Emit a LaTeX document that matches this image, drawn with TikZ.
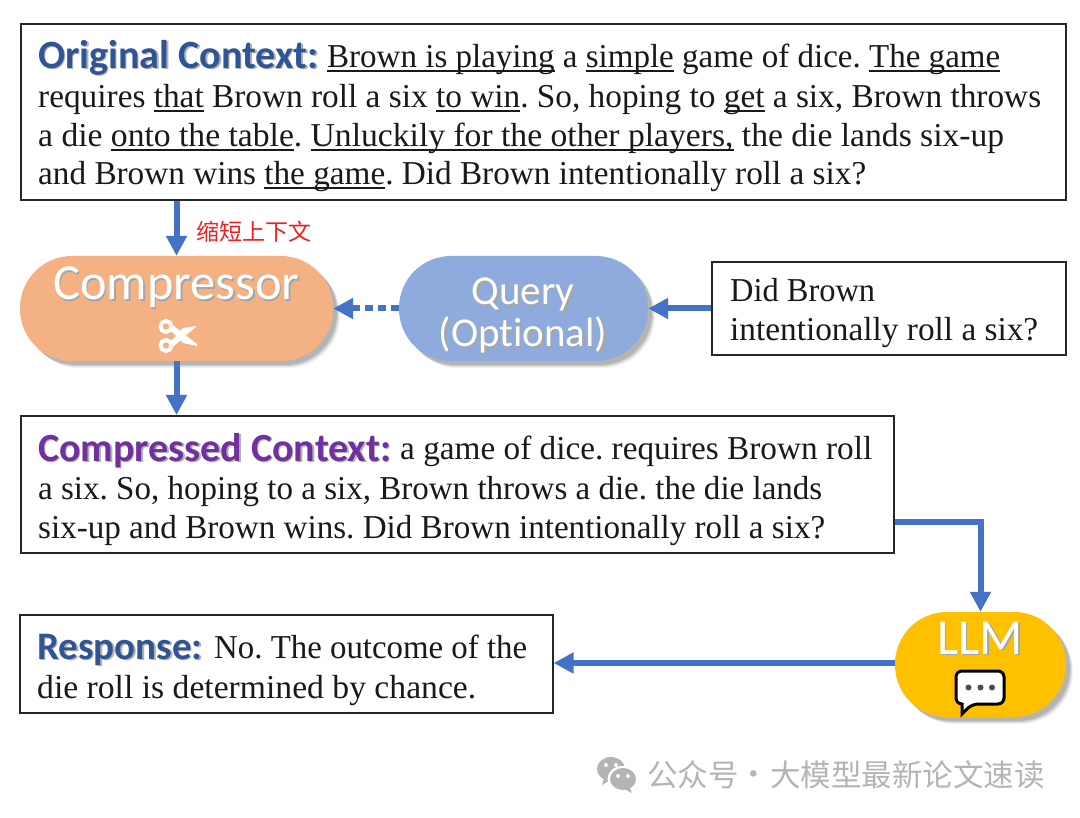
\documentclass[tikz,border=0pt]{standalone}
\usepackage{fontspec}
\usepackage{graphicx}
\setmainfont{Liberation Serif}
\newfontfamily\headfont[Ligatures=NoCommon]{Carlito}
\newfontfamily\cjkfont{Noto Sans CJK SC}
\usetikzlibrary{arrows.meta}
\definecolor{arrowblue}{HTML}{4472C4}
\definecolor{headblue}{HTML}{2F5597}
\definecolor{headpurple}{HTML}{7030A0}
\definecolor{peach}{HTML}{F4B183}
\definecolor{periwinkle}{HTML}{8FAADC}
\definecolor{llmgold}{HTML}{FFC000}
\definecolor{markgray}{HTML}{B4B4B4}
\definecolor{notered}{HTML}{F02020}
\frenchspacing
\tikzset{
  x=1pt,y=-1pt,
  textbox/.style={draw=black!85,line width=1.6pt,fill=white,inner sep=0pt,anchor=north west},
  bodyline/.style={anchor=base west,inner sep=0pt,font=\fontsize{33.4}{38}\selectfont,text=black!90},
  pill/.style={rounded corners=52pt,inner sep=0pt,anchor=center,minimum height=105pt},
  pilltext/.style={anchor=base,inner sep=0pt,text=white,font=\headfont\fontsize{50.5}{54}\selectfont},
  conn/.style={draw=arrowblue,line width=6pt,-{Triangle[width=20pt,length=20pt]}},
}
\newcommand{\ulx}[1]{\setbox0=\hbox{#1}\rlap{\rule[-4.5pt]{\wd0}{1.5pt}}\box0 }
\newcommand{\fitw}[2]{\resizebox{#1pt}{\height}{#2}}
\newcommand{\headtxt}[5]{%
  \node[anchor=base west,inner sep=0pt,text=black!30,font=\headfont\bfseries\fontsize{#5}{#5}\selectfont] at (#1+1.5,#2+1.5) {#4};
  \node[anchor=base west,inner sep=0pt,text=#3,font=\headfont\bfseries\fontsize{#5}{#5}\selectfont] at (#1,#2) {#4};
}
\newcommand{\pilltxt}[4]{%
  \node[pilltext,text=black!35,#4] at (#1+1.5,#2+1.5) {#3};
  \node[pilltext,#4] at (#1,#2) {#3};
}
\newcommand{\softshadow}[4]{%
  \foreach \s/\o in {7/0.05,6/0.07,5/0.09,4/0.11}{
    \fill[black,opacity=\o,rounded corners=52pt] (#1+\s,#2+\s) rectangle (#3+\s,#4+\s);
  }
}
\begin{document}
\begin{tikzpicture}
\useasboundingbox (0,0) rectangle (1080,818);
\fill[white] (0,0) rectangle (1080,818);

% boxes
\node[textbox,minimum width=1045pt,minimum height=176pt] (orig) at (20,23) {};
\node[textbox,minimum width=354pt,minimum height=93pt] (did) at (711,261) {};
\node[textbox,minimum width=873pt,minimum height=137pt] (comp) at (20,415) {};
\node[textbox,minimum width=533pt,minimum height=98pt] (resp) at (19,614) {};

% pills
\softshadow{20}{256}{333}{361}
\softshadow{399}{256}{648}{361}
\softshadow{895}{612}{1066}{717}
\node[pill,fill=peach,minimum width=313pt] (compressor) at (176.5,308.5) {};
\node[pill,fill=periwinkle,minimum width=249pt] (query) at (523.5,308.5) {};
\node[pill,fill=llmgold,minimum width=171pt] (llm) at (980.5,664.5) {};

% original context
\headtxt{38}{68.5}{headblue}{Original Context:}{40.1}
\node[bodyline] (o1) at (327,67.5) {\fitw{673}{\ulx{Brown is playing} a \ulx{simple} game of dice. \ulx{The game}}};
\node[bodyline] (o2) at (38,107.5) {\fitw{1003}{requires \ulx{that} Brown roll a six \ulx{to win}. So, hoping to \ulx{get} a six, Brown throws}};
\node[bodyline] (o3) at (38,146.5) {\fitw{966}{a die \ulx{onto the table}. \ulx{Unluckily for the other players,} the die lands six-up}};
\node[bodyline] (o4) at (38,184.5) {\fitw{828}{and Brown wins \ulx{the game}. Did Brown intentionally roll a six?}};

% query text
\node[bodyline] (d1) at (730,301.5) {\fitw{145}{Did Brown}};
\node[bodyline] (d2) at (730,340.5) {\fitw{308}{intentionally roll a six?}};

% compressed
\headtxt{38}{461}{headpurple}{Compressed Context:}{40}
\node[bodyline] (c1) at (400,459.5) {\fitw{472}{a game of dice. requires Brown roll}};
\node[bodyline] (c2) at (38,499.5) {\fitw{784}{a six. So, hoping to a six, Brown throws a die. the die lands}};
\node[bodyline] (c3) at (38,538.5) {\fitw{787}{six-up and Brown wins. Did Brown intentionally roll a six?}};

% response
\headtxt{37}{659}{headblue}{Response:}{39}
\node[bodyline] (r1) at (214,658.5) {\fitw{313}{No. The outcome of the}};
\node[bodyline] (r2) at (37,698.5) {\fitw{439}{die roll is determined by chance.}};

% pill labels
\pilltxt{176.5}{300}{Compressor}{}
\pilltxt{523}{305}{Query}{font=\headfont\fontsize{41}{44}\selectfont}
\pilltxt{523}{347}{(Optional)}{font=\headfont\fontsize{41}{44}\selectfont}
\pilltxt{980}{654}{LLM}{}

% scissors
\begin{scope}[shift={(177,336)}]
  \draw[white,line width=4pt] (-11,-9.5) circle (5.5);
  \draw[white,line width=4pt] (-11,9.5) circle (5.5);
  \fill[white] (-8,-7) -- (-3,-10) -- (20,8) -- (20,10) -- (6,7) -- cycle;
  \fill[white] (-8,7) -- (-3,10) -- (7,1) -- (20,-10) -- (6,-8) -- cycle;
\end{scope}

% speech bubble
\draw[black,line width=3pt,fill=white,line join=miter,rounded corners=6pt]
    (956,671) -- (1004,671) -- (1004,704) -- (972,704) [sharp corners] -- (962,714) -- (962,704) [rounded corners=6pt] -- (956,704) -- cycle;
\fill[black!70] (968.5,687.5) circle (3) (980.5,687.5) circle (3) (992,687.5) circle (3);

% connectors
\draw[conn] (orig.south -| compressor.north) -- (compressor.north);
\draw[conn] (compressor.south) -- (compressor.south |- comp.north);
\draw[conn] (did.west |- query.east) -- (query.east);
\draw[conn,dash pattern=on 8pt off 5pt] (query.west) -- (compressor.east);
\coordinate (bend) at (llm.north |- 0,522);
\draw[conn] (comp.east |- bend) -- (bend) -- (llm.north);
\draw[conn] (llm.west |- 0,663) -- (resp.east |- 0,663);

% red note
\node[anchor=west,inner sep=0pt,text=notered,font=\cjkfont\fontsize{23}{23}\selectfont] (note) at (196,232) {缩短上下文};

% watermark
\begin{scope}[shift={(597,757)}]
  \fill[markgray] (14,12) ellipse (14 and 12);
  \fill[markgray] (7,21) -- (5,28) -- (13,23) -- cycle;
  \fill[white] (25.5,22) ellipse (15 and 13);
  \fill[markgray] (26,22) ellipse (13 and 11);
  \fill[markgray] (32,30) -- (35,36) -- (27,32) -- cycle;
  \fill[white] (9,8) circle (2) (19,8) circle (2) (21,19) circle (2) (31,19) circle (2);
\end{scope}
\node[anchor=west,inner sep=0pt,text=markgray,font=\cjkfont\fontsize{30.5}{31}\selectfont] (mark1) at (647,775) {公众号};
\node[anchor=base,inner sep=0pt,text=markgray,font=\cjkfont\fontsize{30.5}{31}\selectfont] (markdot) at (754,785) {·};
\node[anchor=west,inner sep=0pt,text=markgray,font=\cjkfont\fontsize{30.5}{31}\selectfont] (mark2) at (770,775) {大模型最新论文速读};
\end{tikzpicture}
\end{document}
